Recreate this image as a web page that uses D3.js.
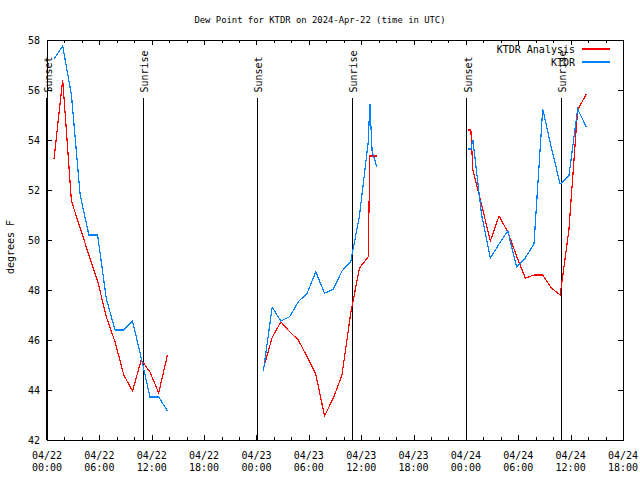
<!DOCTYPE html>
<html><head><meta charset="utf-8">
<script src="https://cdn.jsdelivr.net/npm/d3@7"></script>
<style>
body{margin:0;background:#fff}
svg{display:block}
text{font-family:"DejaVu Sans Mono",monospace;fill:#000}
</style>
</head><body><svg id="c" width="640" height="480"></svg>
<script>
const titleText = "Dew Point for KTDR on 2024-Apr-22 (time in UTC)";
const yLabelText = "degrees F";
const seriesNames = ["KTDR Analysis", "KTDR"];
const seriesColors = ["#ff0000", "#0080ff"];
const yTickValues = [42, 44, 46, 48, 50, 52, 54, 56, 58];
const xDomain = ["2024-04-22T00:00Z", "2024-04-24T18:00Z"];

// KTDR Analysis (red)
const analysisTimes = [
  "2024-04-22T00:48Z","2024-04-22T01:48Z","2024-04-22T02:48Z","2024-04-22T03:48Z","2024-04-22T04:48Z",
  "2024-04-22T05:48Z","2024-04-22T06:48Z","2024-04-22T07:48Z","2024-04-22T08:48Z","2024-04-22T09:48Z",
  "2024-04-22T10:48Z","2024-04-22T11:48Z","2024-04-22T12:48Z","2024-04-22T13:48Z",
  "2024-04-22T18:00Z",
  "2024-04-23T00:48Z","2024-04-23T01:48Z","2024-04-23T02:48Z","2024-04-23T03:48Z","2024-04-23T04:48Z",
  "2024-04-23T05:48Z","2024-04-23T06:48Z","2024-04-23T07:48Z","2024-04-23T08:48Z","2024-04-23T09:48Z",
  "2024-04-23T10:48Z","2024-04-23T11:48Z","2024-04-23T12:48Z","2024-04-23T13:00Z","2024-04-23T13:48Z",
  "2024-04-23T18:00Z",
  "2024-04-24T00:16Z","2024-04-24T00:34Z","2024-04-24T00:48Z","2024-04-24T01:48Z","2024-04-24T02:48Z",
  "2024-04-24T03:48Z","2024-04-24T04:48Z","2024-04-24T05:48Z","2024-04-24T06:48Z","2024-04-24T07:48Z",
  "2024-04-24T08:48Z","2024-04-24T09:48Z","2024-04-24T10:48Z","2024-04-24T11:48Z","2024-04-24T12:48Z",
  "2024-04-24T13:48Z"
];
const analysisValues = [
  53.24, 56.4, 51.56, 50.48, 49.4, 48.36, 46.92, 45.92, 44.6, 43.96, 45.2, 44.72, 43.88, 45.4,
  null,
  44.87, 46.1, 46.73, 46.33, 46.0, 45.33, 44.63, 42.96, 43.67, 44.6, 47.07, 48.87, 49.33, 53.36, 53.36,
  null,
  54.4, 54.4, 52.8, 51.4, 49.96, 50.96, 50.32, 49.36, 48.48, 48.6, 48.6, 48.08, 47.8, 50.4, 55.2, 55.84
];

// KTDR observations (blue)
const obsTimes = [
  "2024-04-22T00:48Z","2024-04-22T01:48Z","2024-04-22T02:48Z","2024-04-22T03:48Z","2024-04-22T04:48Z",
  "2024-04-22T05:48Z","2024-04-22T06:48Z","2024-04-22T07:48Z","2024-04-22T08:48Z","2024-04-22T09:48Z",
  "2024-04-22T10:48Z","2024-04-22T11:48Z","2024-04-22T12:48Z","2024-04-22T13:48Z",
  "2024-04-22T18:00Z",
  "2024-04-23T00:48Z","2024-04-23T01:48Z","2024-04-23T02:48Z","2024-04-23T03:48Z","2024-04-23T04:48Z",
  "2024-04-23T05:48Z","2024-04-23T06:48Z","2024-04-23T07:48Z","2024-04-23T08:48Z","2024-04-23T09:48Z",
  "2024-04-23T10:48Z","2024-04-23T11:48Z","2024-04-23T12:48Z","2024-04-23T13:00Z","2024-04-23T13:15Z",
  "2024-04-23T13:48Z",
  "2024-04-23T18:00Z",
  "2024-04-24T00:16Z","2024-04-24T00:34Z","2024-04-24T00:48Z","2024-04-24T01:48Z","2024-04-24T02:48Z",
  "2024-04-24T03:48Z","2024-04-24T04:48Z","2024-04-24T05:48Z","2024-04-24T06:48Z","2024-04-24T07:48Z",
  "2024-04-24T08:48Z","2024-04-24T09:48Z","2024-04-24T10:48Z","2024-04-24T11:48Z","2024-04-24T12:48Z",
  "2024-04-24T13:48Z"
];
const obsValues = [
  57.24, 57.76, 55.8, 51.8, 50.2, 50.2, 47.64, 46.4, 46.4, 46.76, 45.28, 43.72, 43.72, 43.16,
  null,
  44.77, 47.31, 46.76, 46.93, 47.53, 47.87, 48.73, 47.87, 48.03, 48.76, 49.13, 50.96, 53.9, 55.44, 53.56, 52.92,
  null,
  53.64, 53.64, 54.0, 51.0, 49.28, 49.84, 50.36, 48.92, 49.28, 49.84, 55.24, 53.68, 52.24, 52.56, 55.24, 54.52
];

const sunsetTimes = ["2024-04-22T00:00Z", "2024-04-23T00:06Z", "2024-04-24T00:06Z"];
const sunriseTimes = ["2024-04-22T11:03Z", "2024-04-23T10:59Z", "2024-04-24T10:56Z"];
const sunLineTopValue = 55.7;

const W = 640, H = 480;
const M = {left: 47, right: 17, top: 40, bottom: 40};
const svg = d3.select("#c");
const x = d3.scaleUtc().domain(xDomain.map(d => new Date(d))).range([M.left, W - M.right]);
const y = d3.scaleLinear().domain([42, 58]).range([H - M.bottom, M.top]);
const fs = 10;

// Title
svg.append("text").attr("x", 320).attr("y", 23).attr("text-anchor", "middle")
  .style("font-size", "8.9px").text(titleText);

// Axes ticks
const majorTicks = d3.utcHour.every(6).range(x.domain()[0], new Date(+x.domain()[1] + 1));
const minorTicks = d3.utcHour.every(2).range(x.domain()[0], new Date(+x.domain()[1] + 1));
function addAxis(axis, tr) {
  const g = svg.append("g").attr("transform", tr).call(axis);
  g.select(".domain").remove();
  g.selectAll("line").attr("stroke", "#000").attr("shape-rendering", "crispEdges");
  g.selectAll("text").style("font-size", fs + "px").style("font-family", '"DejaVu Sans Mono",monospace');
  return g;
}
addAxis(d3.axisBottom(x).tickValues(minorTicks).tickSizeInner(-3).tickSizeOuter(0).tickFormat(""), `translate(0,${H - M.bottom})`);
addAxis(d3.axisBottom(x).tickValues(majorTicks).tickSizeInner(-5).tickSizeOuter(0).tickFormat(""), `translate(0,${H - M.bottom})`);
addAxis(d3.axisTop(x).tickValues(minorTicks).tickSizeInner(-3).tickSizeOuter(0).tickFormat(""), `translate(0,${M.top})`);
addAxis(d3.axisTop(x).tickValues(majorTicks).tickSizeInner(-5).tickSizeOuter(0).tickFormat(""), `translate(0,${M.top})`);
addAxis(d3.axisLeft(y).tickValues(yTickValues).tickSizeInner(-5).tickSizeOuter(0).tickPadding(7), `translate(${M.left},0)`);
addAxis(d3.axisRight(y).tickValues(yTickValues).tickSizeInner(-5).tickSizeOuter(0).tickFormat(""), `translate(${W - M.right},0)`);

// x tick labels (two lines)
const fmtDate = d3.utcFormat("%m/%d"), fmtTime = d3.utcFormat("%H:%M");
const xl = svg.append("g").selectAll("text").data(majorTicks).join("text")
  .attr("text-anchor", "middle").style("font-size", fs + "px");
xl.append("tspan").attr("x", d => x(d)).attr("y", 459).text(d => fmtDate(d));
xl.append("tspan").attr("x", d => x(d)).attr("y", 471).text(d => fmtTime(d));

// y label
svg.append("text").attr("transform", "translate(14,247) rotate(-90)").attr("text-anchor", "middle")
  .style("font-size", fs + "px").text(yLabelText);

// frame
svg.append("rect").attr("x", M.left).attr("y", M.top).attr("width", W - M.left - M.right)
  .attr("height", H - M.top - M.bottom).attr("fill", "none").attr("stroke", "#000")
  .attr("shape-rendering", "crispEdges");

// sunrise/sunset markers
const sunEvents = sunsetTimes.map(t => ({t: new Date(t), label: "Sunset"}))
  .concat(sunriseTimes.map(t => ({t: new Date(t), label: "Sunrise"})));
const sg = svg.append("g");
sg.selectAll("line").data(sunEvents).join("line")
  .attr("x1", d => x(d.t)).attr("x2", d => x(d.t))
  .attr("y1", y(sunLineTopValue)).attr("y2", y(42))
  .attr("stroke", "#000").attr("stroke-width", 1.2).attr("shape-rendering", "crispEdges");
sg.selectAll("text").data(sunEvents).join("text")
  .attr("transform", d => `translate(${x(d.t) + 5},${y(sunLineTopValue) - 5}) rotate(-90)`)
  .attr("text-anchor", "start").style("font-size", fs + "px").text(d => d.label);

// series lines
const series = [
  {name: seriesNames[0], color: seriesColors[0], pts: analysisTimes.map((t, i) => ({t: new Date(t), v: analysisValues[i]}))},
  {name: seriesNames[1], color: seriesColors[1], pts: obsTimes.map((t, i) => ({t: new Date(t), v: obsValues[i]}))}
];
const line = d3.line().defined(d => d.v != null).x(d => x(d.t)).y(d => y(d.v));
svg.append("g").selectAll("path").data(series).join("path")
  .attr("d", d => line(d.pts)).attr("fill", "none").attr("stroke", d => d.color)
  .attr("stroke-width", 1.2).attr("shape-rendering", "crispEdges");

// legend
const lg = svg.append("g").selectAll("g").data(series).join("g");
lg.append("text").attr("x", 575).attr("y", (d, i) => 53 + i * 13).attr("text-anchor", "end")
  .style("font-size", fs + "px").text(d => d.name);
lg.append("line").attr("x1", 582).attr("x2", 610).attr("y1", (d, i) => 49 + i * 13).attr("y2", (d, i) => 49 + i * 13)
  .attr("stroke", d => d.color).attr("stroke-width", 1.2).attr("shape-rendering", "crispEdges");
</script></body></html>
